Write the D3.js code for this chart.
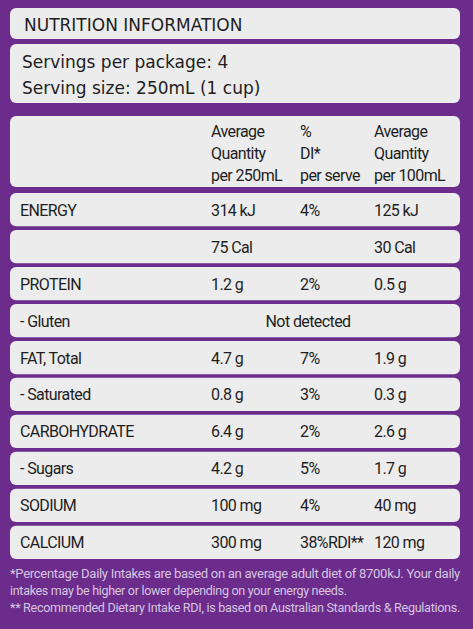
<!DOCTYPE html>
<html lang="en">
<head>
  <meta charset="UTF-8">
  <title>Nutrition Information</title>
  <script src="https://d3js.org/d3.v7.min.js"></script>
  <style>
    body { margin: 0; background: #6b2c8c; }
    text { font-family: 'Liberation Sans Narrow', 'Roboto', sans-serif; fill: #1e1e1e; letter-spacing: -0.6px; }
    .note { fill: #d6c6e0; font-size: 12.5px; letter-spacing: -0.3px; }
  </style>
</head>
<body>
  <svg width="473" height="629"></svg>
  <script>
    const nutrients = ["ENERGY", "", "PROTEIN", "- Gluten", "FAT, Total", "- Saturated", "CARBOHYDRATE", "- Sugars", "SODIUM", "CALCIUM"];
    const perServe = ["314 kJ", "75 Cal", "1.2 g", "Not detected", "4.7 g", "0.8 g", "6.4 g", "4.2 g", "100 mg", "300 mg"];
    const diPerServe = ["4%", "", "2%", "", "7%", "3%", "2%", "5%", "4%", "38%RDI**"];
    const per100 = ["125 kJ", "30 Cal", "0.5 g", "", "1.9 g", "0.3 g", "2.6 g", "1.7 g", "40 mg", "120 mg"];
    const headers = [["Average", "Quantity", "per 250mL"], ["%", "DI*", "per serve"], ["Average", "Quantity", "per 100mL"]];
    const notes = [
      "*Percentage Daily Intakes are based on an average adult diet of 8700kJ. Your daily",
      "intakes may be higher or lower depending on your energy needs.",
      "** Recommended Dietary Intake RDI, is based on Australian Standards & Regulations."
    ];
    const noteWidths = [450, null, 450];

    const svg = d3.select("svg");
    const boxX = 10, boxW = 450, fillBox = "#ececec";
    const fs = "16px";

    const rows = d3.scaleBand().domain(d3.range(nutrients.length)).range([192, 560]).paddingInner(0.1).paddingOuter(0.03);
    const cols = d3.scaleOrdinal().domain([0, 1, 2]).range([211, 300, 374]);

    // top boxes
    svg.append("rect").attr("x", boxX).attr("y", 8).attr("width", boxW).attr("height", 31).attr("rx", 6).attr("fill", fillBox);
    svg.append("text").attr("x", 24).attr("y", 31).style("font-family", "'DejaVu Sans', sans-serif").style("letter-spacing", "0").style("font-size", "17px").text("NUTRITION INFORMATION");
    svg.append("rect").attr("x", boxX).attr("y", 44).attr("width", boxW).attr("height", 59).attr("rx", 6).attr("fill", fillBox);
    svg.append("text").attr("x", 22).attr("y", 68).style("font-family", "'DejaVu Sans', sans-serif").style("letter-spacing", "0").style("font-size", "17px").text("Servings per package: 4");
    svg.append("text").attr("x", 22).attr("y", 94).style("font-family", "'DejaVu Sans', sans-serif").style("letter-spacing", "0").style("font-size", "17px").text("Serving size: 250mL (1 cup)");

    // header
    svg.append("rect").attr("x", boxX).attr("y", 116).attr("width", boxW).attr("height", 71).attr("rx", 6).attr("fill", fillBox);
    headers.forEach((h, i) => {
      h.forEach((t, j) => {
        svg.append("text").attr("x", cols(i)).attr("y", 137 + j * 22).style("font-size", fs).text(t);
      });
    });

    // rows
    const g = svg.selectAll("g.row").data(nutrients).enter().append("g").attr("class", "row")
      .attr("transform", (d, i) => `translate(0,${rows(i)})`);
    g.append("rect").attr("x", boxX).attr("width", boxW).attr("height", rows.bandwidth()).attr("rx", 6).attr("fill", fillBox);
    const ty = rows.bandwidth() / 2 + 6;
    g.append("text").attr("x", 20).attr("y", ty).style("font-size", fs).text(d => d);
    g.append("text").attr("x", (d, i) => perServe[i] === "Not detected" ? 308 : cols(0))
      .attr("text-anchor", (d, i) => perServe[i] === "Not detected" ? "middle" : "start")
      .attr("y", ty).style("font-size", fs).text((d, i) => perServe[i]);
    g.append("text").attr("x", cols(1)).attr("y", ty).style("font-size", fs).text((d, i) => diPerServe[i]);
    g.append("text").attr("x", cols(2)).attr("y", ty).style("font-size", fs).text((d, i) => per100[i]);

    // notes
    svg.selectAll("text.note").data(notes).enter().append("text").attr("class", "note")
      .attr("x", 10).attr("y", (d, i) => 578 + i * 17)
      .each(function (d, i) {
        if (noteWidths[i]) d3.select(this).attr("textLength", noteWidths[i]).attr("lengthAdjust", "spacingAndGlyphs");
      })
      .text(d => d);
  </script>
</body>
</html>
